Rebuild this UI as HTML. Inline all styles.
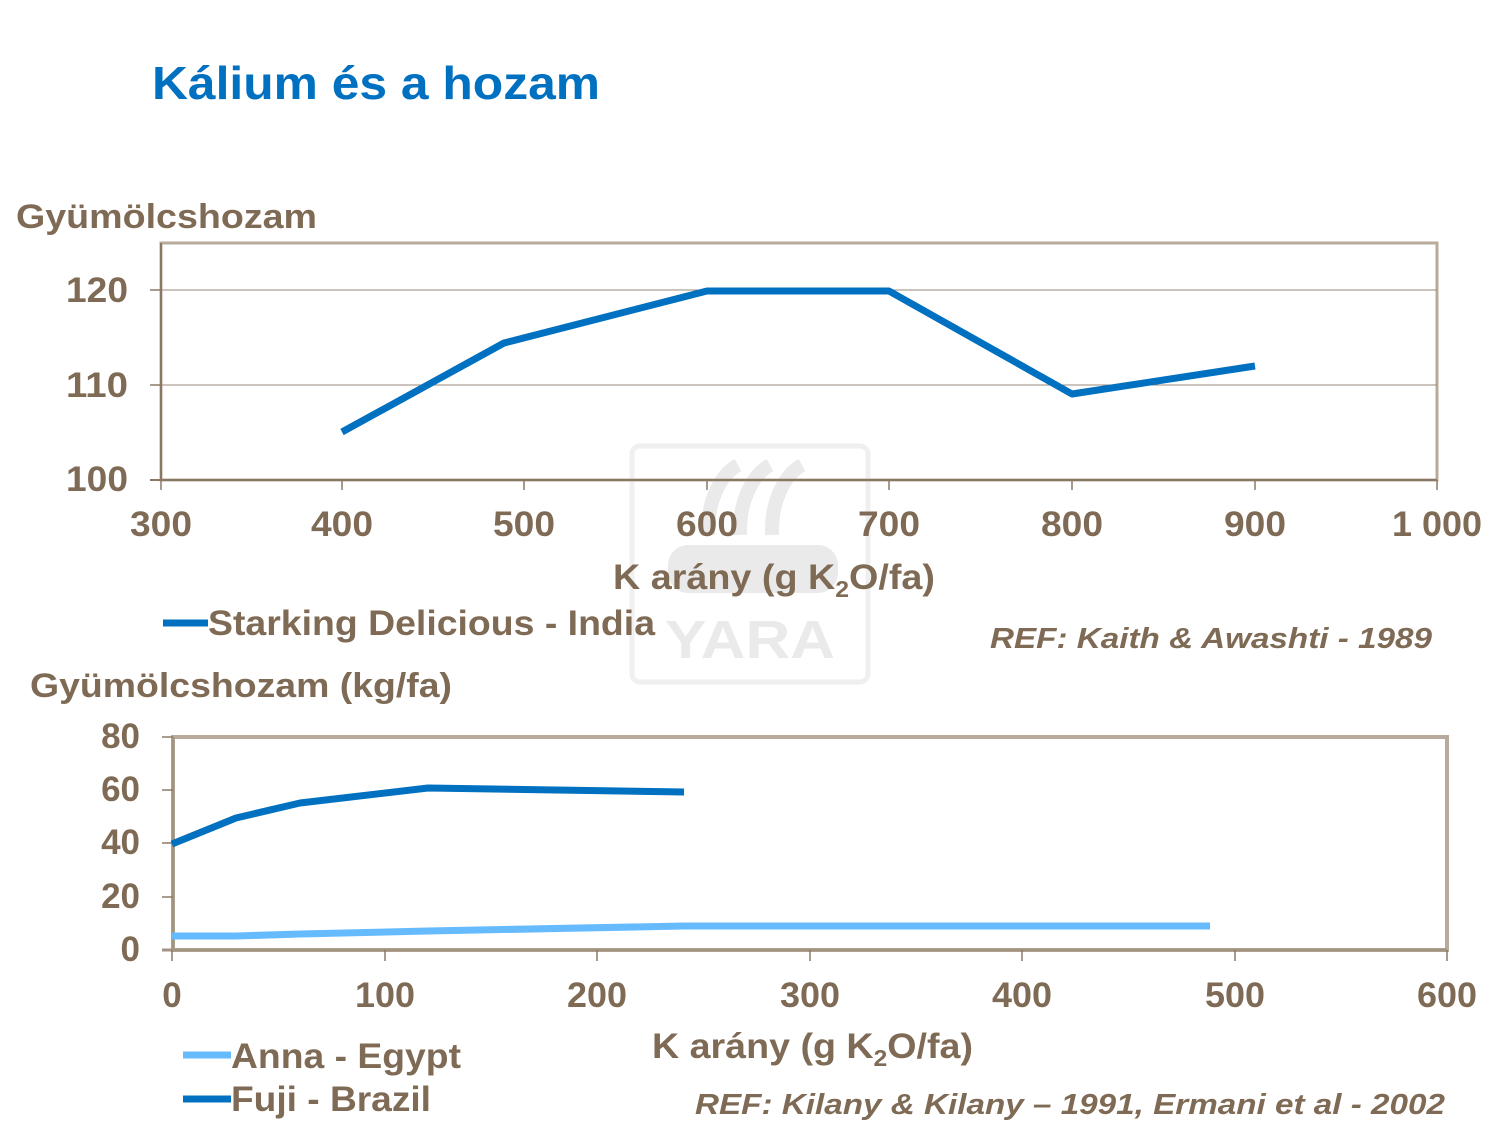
<!DOCTYPE html>
<html><head><meta charset="utf-8"><style>
body{margin:0;background:#fff;}
svg text{font-family:"Liberation Sans",Arial,sans-serif;font-weight:bold;fill:#7f6b55;}
</style></head><body>
<svg width="1500" height="1129" viewBox="0 0 1500 1129" xmlns="http://www.w3.org/2000/svg">
<!-- watermark -->
<g opacity="0.3">
<rect x="632" y="446" width="236" height="236" rx="8" fill="none" stroke="#ccc" stroke-width="5"/>
<path d="M708 535 a45 70 0 0 1 30 -70" stroke="#bbb" stroke-width="14" fill="none"/>
<path d="M740 535 a45 70 0 0 1 30 -70" stroke="#bbb" stroke-width="14" fill="none"/>
<path d="M772 535 a45 70 0 0 1 30 -70" stroke="#bbb" stroke-width="14" fill="none"/>
<rect x="668" y="545" width="170" height="48" rx="20" fill="#bbb"/>
<text x="750" y="658" text-anchor="middle" font-size="54" textLength="170" lengthAdjust="spacingAndGlyphs" style="fill:#bbb">YARA</text>
</g>
<text x="152" y="99" font-size="46" textLength="448" lengthAdjust="spacingAndGlyphs" style="fill:#0070c0">Kálium és a hozam</text>

<!-- top chart -->
<text x="16" y="228" font-size="34" textLength="301" lengthAdjust="spacingAndGlyphs">Gyümölcshozam</text>
<rect x="161" y="243" width="1276" height="237" fill="none" stroke="#b8ab9c" stroke-width="3"/>
<line x1="161" y1="385" x2="1437" y2="385" stroke="#9a8a78" stroke-width="1"/>
<line x1="161" y1="290" x2="1437" y2="290" stroke="#9a8a78" stroke-width="1"/>
<line x1="161" y1="243" x2="161" y2="480" stroke="#8a7865" stroke-width="2"/>
<line x1="150" y1="480" x2="1437" y2="480" stroke="#8a7865" stroke-width="2"/>
<g stroke="#8a7865" stroke-width="1.5">
<line x1="150" y1="385" x2="161" y2="385"/><line x1="150" y1="290" x2="161" y2="290"/>
<line x1="342" y1="480" x2="342" y2="490"/><line x1="524" y1="480" x2="524" y2="490"/><line x1="707" y1="480" x2="707" y2="490"/><line x1="889" y1="480" x2="889" y2="490"/><line x1="1072" y1="480" x2="1072" y2="490"/><line x1="1255" y1="480" x2="1255" y2="490"/><line x1="1437" y1="480" x2="1437" y2="490"/><line x1="161" y1="480" x2="161" y2="490"/>
</g>
<g font-size="35" text-anchor="end">
<text x="128" y="302" textLength="62" lengthAdjust="spacingAndGlyphs">120</text><text x="128" y="397" textLength="62" lengthAdjust="spacingAndGlyphs">110</text><text x="128" y="491" textLength="62" lengthAdjust="spacingAndGlyphs">100</text>
</g>
<g font-size="35" text-anchor="middle">
<text x="161" y="536" textLength="62" lengthAdjust="spacingAndGlyphs">300</text><text x="342" y="536" textLength="62" lengthAdjust="spacingAndGlyphs">400</text><text x="524" y="536" textLength="62" lengthAdjust="spacingAndGlyphs">500</text><text x="707" y="536" textLength="62" lengthAdjust="spacingAndGlyphs">600</text><text x="889" y="536" textLength="62" lengthAdjust="spacingAndGlyphs">700</text><text x="1072" y="536" textLength="62" lengthAdjust="spacingAndGlyphs">800</text><text x="1255" y="536" textLength="62" lengthAdjust="spacingAndGlyphs">900</text><text x="1437" y="536" textLength="90" lengthAdjust="spacingAndGlyphs">1 000</text>
</g>
<text x="613" y="589" font-size="35" textLength="322" lengthAdjust="spacingAndGlyphs">K arány (g K<tspan font-size="23" dy="8">2</tspan><tspan dy="-8">O/fa)</tspan></text>
<polyline points="342,432 504,343 707,291 889,291 1072,394 1255,366" fill="none" stroke="#0070c0" stroke-width="7" stroke-linejoin="round"/>
<line x1="163" y1="623" x2="208" y2="623" stroke="#0070c0" stroke-width="7"/>
<text x="208" y="635" font-size="35" textLength="447" lengthAdjust="spacingAndGlyphs">Starking Delicious - India</text>
<text x="1432" y="648" font-size="29" font-style="italic" text-anchor="end" textLength="442" lengthAdjust="spacingAndGlyphs">REF: Kaith &amp; Awashti - 1989</text>

<!-- bottom chart -->
<text x="30" y="697" font-size="34" textLength="422" lengthAdjust="spacingAndGlyphs">Gyümölcshozam (kg/fa)</text>
<rect x="173" y="737" width="1274" height="213" fill="none" stroke="#b8ab9c" stroke-width="4"/>
<line x1="173" y1="737" x2="173" y2="950" stroke="#a39482" stroke-width="3"/>
<line x1="162" y1="950" x2="1447" y2="950" stroke="#a39482" stroke-width="3"/>
<g stroke="#8a7865" stroke-width="1.5">
<line x1="162" y1="737" x2="173" y2="737"/><line x1="162" y1="790" x2="173" y2="790"/><line x1="162" y1="843" x2="173" y2="843"/><line x1="162" y1="897" x2="173" y2="897"/>
<line x1="172" y1="950" x2="172" y2="961"/><line x1="385" y1="950" x2="385" y2="961"/><line x1="597" y1="950" x2="597" y2="961"/><line x1="810" y1="950" x2="810" y2="961"/><line x1="1022" y1="950" x2="1022" y2="961"/><line x1="1235" y1="950" x2="1235" y2="961"/><line x1="1447" y1="950" x2="1447" y2="961"/>
</g>
<g font-size="35" text-anchor="end">
<text x="140" y="748">80</text><text x="140" y="801">60</text><text x="140" y="854">40</text><text x="140" y="908">20</text><text x="140" y="961">0</text>
</g>
<g font-size="35" text-anchor="middle">
<text x="172" y="1007">0</text><text x="385" y="1007" textLength="60" lengthAdjust="spacingAndGlyphs">100</text><text x="597" y="1007" textLength="60" lengthAdjust="spacingAndGlyphs">200</text><text x="810" y="1007" textLength="60" lengthAdjust="spacingAndGlyphs">300</text><text x="1022" y="1007" textLength="60" lengthAdjust="spacingAndGlyphs">400</text><text x="1235" y="1007" textLength="60" lengthAdjust="spacingAndGlyphs">500</text><text x="1447" y="1007" textLength="60" lengthAdjust="spacingAndGlyphs">600</text>
</g>
<text x="652" y="1058" font-size="35" textLength="321" lengthAdjust="spacingAndGlyphs">K arány (g K<tspan font-size="23" dy="8">2</tspan><tspan dy="-8">O/fa)</tspan></text>
<polyline points="172,936 236,936 300,934 428,931 684,926 1210,926" fill="none" stroke="#66bbff" stroke-width="7" stroke-linejoin="round"/>
<polyline points="172,844 236,818 300,803 428,788 684,792" fill="none" stroke="#0070c0" stroke-width="7" stroke-linejoin="round"/>
<line x1="183" y1="1055" x2="231" y2="1055" stroke="#66bbff" stroke-width="7"/>
<text x="231" y="1068" font-size="35" textLength="230" lengthAdjust="spacingAndGlyphs">Anna - Egypt</text>
<line x1="183" y1="1099" x2="231" y2="1099" stroke="#0070c0" stroke-width="7"/>
<text x="231" y="1111" font-size="35" textLength="200" lengthAdjust="spacingAndGlyphs">Fuji - Brazil</text>
<text x="1445" y="1114" font-size="29" font-style="italic" text-anchor="end" textLength="750" lengthAdjust="spacingAndGlyphs">REF: Kilany &amp; Kilany – 1991, Ermani et al - 2002</text>
</svg>
</body></html>
